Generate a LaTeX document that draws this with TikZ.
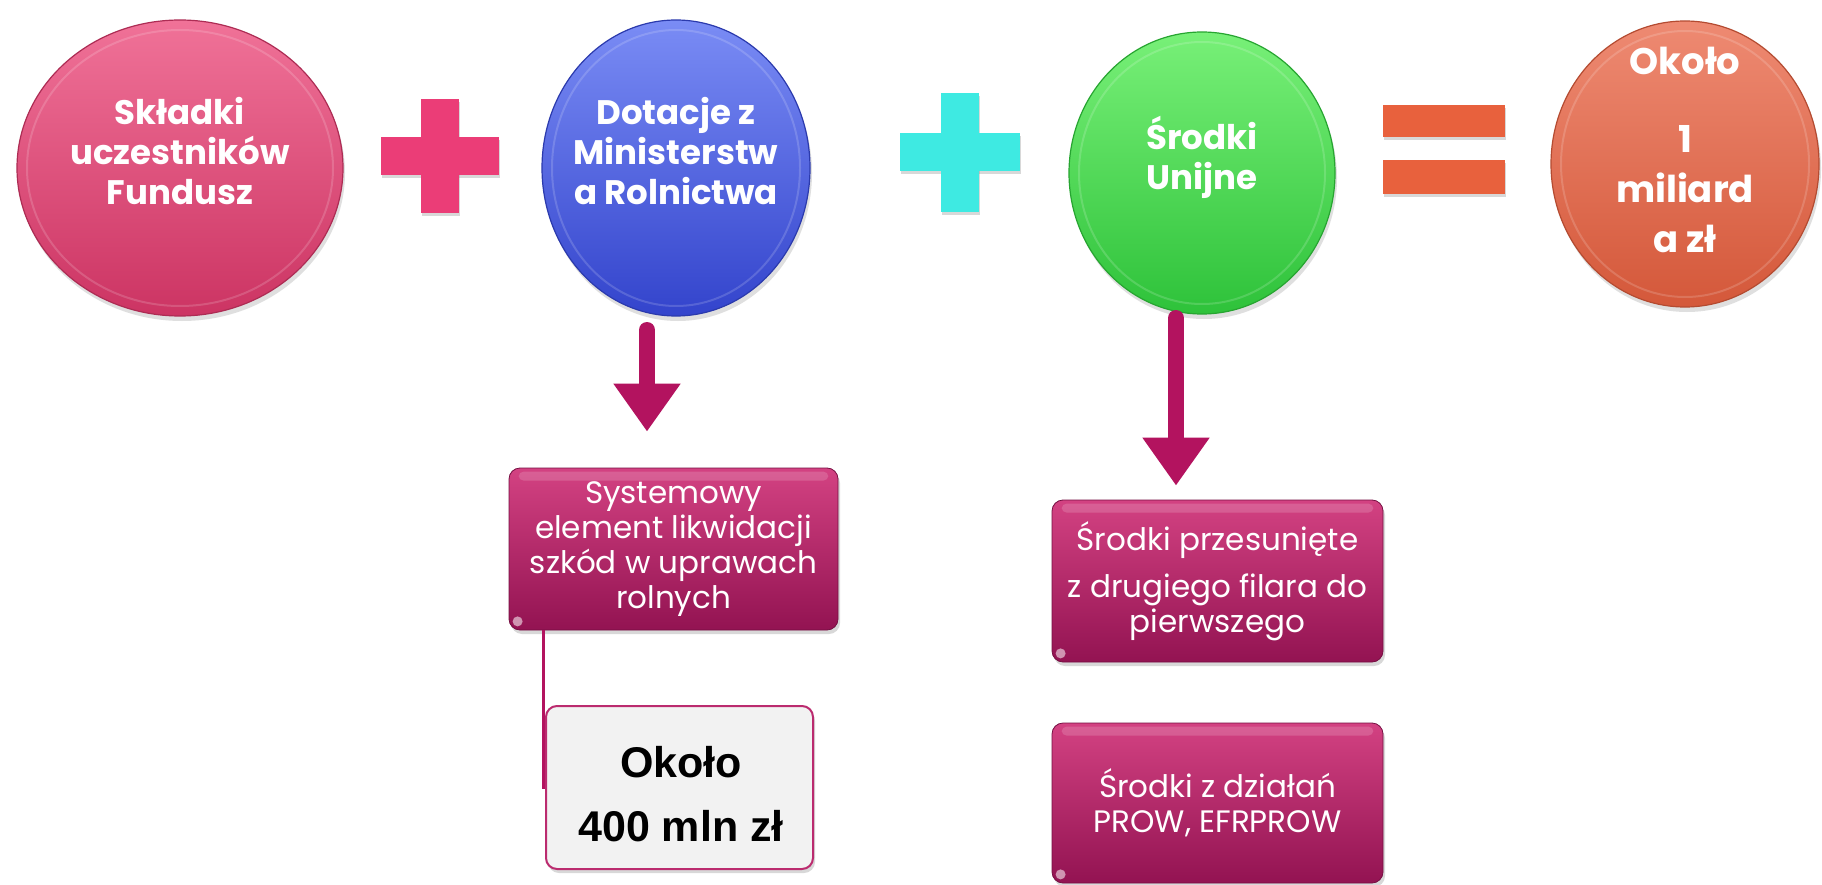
\documentclass[tikz,border=0pt]{standalone}
\usepackage{fontspec}
\setmainfont{Poppins}
\newfontfamily\ellfont{Poppins}
\newfontfamily\arialfont{Liberation Sans}
\usetikzlibrary{shapes.geometric,shadows,arrows.meta,calc}
\definecolor{eAt}{HTML}{F07298}\definecolor{eAb}{HTML}{CC3463}
\definecolor{eBt}{HTML}{7A8CF5}\definecolor{eBb}{HTML}{3344CC}
\definecolor{eCt}{HTML}{78F078}\definecolor{eCb}{HTML}{2EC23A}
\definecolor{eDt}{HTML}{EE8A72}\definecolor{eDb}{HTML}{D4583A}
\definecolor{plusA}{HTML}{EB3D77}
\definecolor{plusB}{HTML}{3EEAE2}
\definecolor{eqC}{HTML}{E8613D}
\definecolor{arrC}{HTML}{B3135F}
\definecolor{boxT}{HTML}{D34282}\definecolor{boxB}{HTML}{931352}
\definecolor{grayF}{HTML}{F2F2F2}
\tikzset{
  ell/.style 2 args={ellipse, inner sep=0pt, top color=#1, bottom color=#2,
     draw=#2!85!black, line width=1.2pt,
     drop shadow={opacity=0.25, shadow xshift=2pt, shadow yshift=-5pt}},
  rim/.style={draw=white, opacity=0.16, line width=2pt},
  elltext/.style={text=white, align=center, font=\ellfont\bfseries\fontsize{34}{40}\selectfont},
  pbox/.style={rectangle, rounded corners=11pt, top color=boxT, bottom color=boxB,
     draw=boxB!80!black, line width=0.8pt, text=white, align=center,
     font=\fontsize{31}{35}\selectfont,
     drop shadow={opacity=0.3, shadow xshift=2pt, shadow yshift=-4pt}},
  gloss/.style={fill=white, opacity=0.16, rounded corners=5pt},
  gbox/.style={rectangle, rounded corners=11pt, fill=grayF, draw=arrC!90!white,
     line width=2pt,
     drop shadow={opacity=0.3, shadow xshift=2pt, shadow yshift=-4pt}},
  gtext/.style={align=center, font=\arialfont\bfseries\fontsize{43}{64}\selectfont},
  bigarrow/.style={draw=arrC, line width=16pt, line cap=round,
     -{Triangle[width=64pt,length=48pt]}},
  opshape/.style={drop shadow={opacity=0.3, shadow xshift=1pt, shadow yshift=-3pt}}
}
\begin{document}
\begin{tikzpicture}[x=1pt,y=-1pt]
\useasboundingbox (0,0) rectangle (1822,885);
\fill[white] (0,0) rectangle (1822,885);

% ellipses
\node[ell={eAt}{eAb}, minimum width=326pt, minimum height=296pt] (e1) at (180,168) {};
\node[ell={eBt}{eBb}, minimum width=268pt, minimum height=296pt] (e2) at (676,168) {};
\node[ell={eCt}{eCb}, minimum width=266pt, minimum height=282pt] (e3) at (1202,173) {};
\node[ell={eDt}{eDb}, minimum width=268pt, minimum height=286pt] (e4) at (1685,164) {};
% inner rims
\draw[rim] (e1.center) ellipse [x radius=153pt, y radius=138pt];
\draw[rim] (e2.center) ellipse [x radius=124pt, y radius=138pt];
\draw[rim] (e3.center) ellipse [x radius=123pt, y radius=131pt];
\draw[rim] (e4.center) ellipse [x radius=124pt, y radius=133pt];

\node[elltext] (t1) at (180,151) {Składki\\uczestników\\Fundusz};
\node[elltext] (t2) at (676,151) {Dotacje z\\Ministerstw\\a Rolnictwa};
\node[elltext] (t3) at (1202,157) {Środki\\Unijne};
\node[elltext, font=\ellfont\bfseries\fontsize{37}{50}\selectfont] (t4) at (1685,150)
   {Około\\[28pt]1\\miliard\\a zł};

% operators
\fill[plusA, opshape] (421,99) rectangle (459,213);
\fill[plusA, opshape] (381,137) rectangle (499,175);
\fill[plusA] (421,99) rectangle (459,213);
\fill[plusB, opshape] (941,93) rectangle (979,212);
\fill[plusB, opshape] (900,133) rectangle (1020,171);
\fill[plusB] (941,93) rectangle (979,212);
\fill[eqC, opshape] (1383,105) rectangle (1505,137);
\fill[eqC, opshape] (1383,160) rectangle (1505,194);

% boxes
\node[pbox, minimum width=329pt, minimum height=162pt] (b1) at (673.5,549)
  {Systemowy\\element likwidacji\\szkód w uprawach\\rolnych};
\node[gbox, minimum width=267pt, minimum height=163pt] (b2) at (679.5,787.5) {};
\node[gtext] (t5) at (681,794) {Około\\400 mln zł};
\node[pbox, minimum width=331pt, minimum height=162pt] (b3) at (1217.5,581)
  {Środki przesunięte\\[12pt]z drugiego filara do\\pierwszego};
\node[pbox, minimum width=331pt, minimum height=160pt] (b4) at (1217.5,803)
  {Środki z działań\\PROW, EFRPROW};
\foreach \b in {b1,b3,b4}{
  \fill[gloss] ($(\b.north west)+(10,4)$) rectangle ($(\b.north east)+(-10,13)$);
  \fill[white, opacity=0.55] ($(\b.south west)+(9,-9)$) circle[radius=5pt];
}

% arrows
\coordinate (a1) at (647,330);
\coordinate (a2) at (1176,318);
\draw[bigarrow, shorten >=36pt] (a1) -- (a1 |- b1.north);
\draw[bigarrow, shorten >=14pt] (a2) -- (a2 |- b3.north);

% connector b1 -> b2
\coordinate (c1) at ($(b1.south west)+(35,0)$);
\draw[arrC, line width=3pt] (c1) |- (b2.west);
\end{tikzpicture}
\end{document}
